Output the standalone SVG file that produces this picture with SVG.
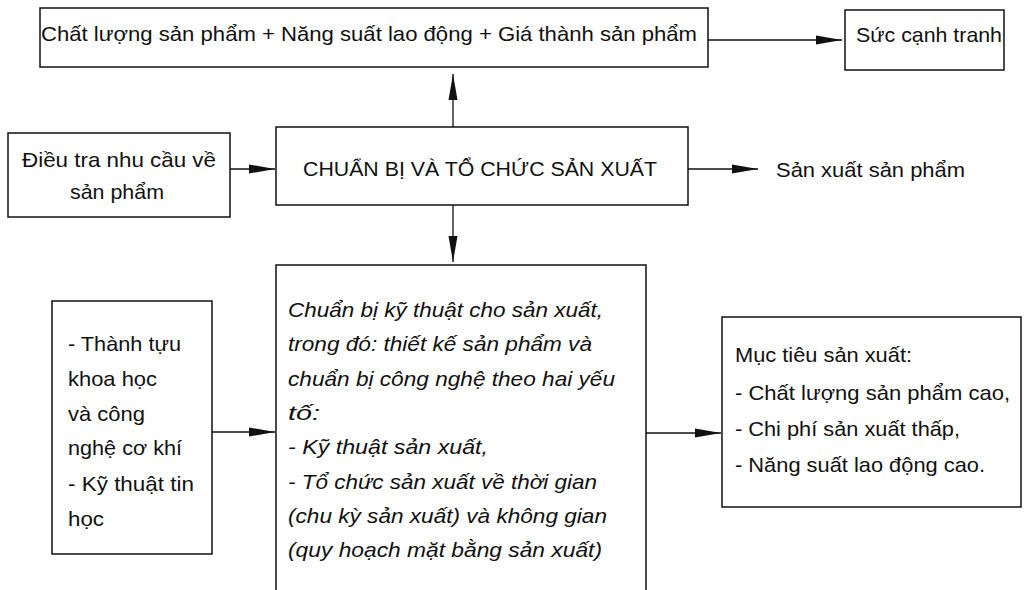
<svg xmlns="http://www.w3.org/2000/svg" width="1035" height="590" viewBox="0 0 1035 590">
<style>
.box{fill:#fff;stroke:#111;stroke-width:1.5}
.t{font-family:"Liberation Sans",Arial,sans-serif;font-size:21px;fill:#111}
.i{font-style:italic}
.c{stroke:#111;stroke-width:1.3;fill:none}
</style>
<defs>
<marker id="ah" viewBox="0 0 26 10" refX="26" refY="5" markerWidth="26" markerHeight="10" markerUnits="userSpaceOnUse" orient="auto">
<path d="M0,0.5 L26,5 L0,9.5 Z" fill="#111"/>
</marker>
</defs>
<rect width="1035" height="590" fill="#fff"/>
<g id="connectors">
<path class="c" d="M708,40 H842" marker-end="url(#ah)"/>
<path class="c" d="M453,127 V74" marker-end="url(#ah)"/>
<path class="c" d="M230,169 H275" marker-end="url(#ah)"/>
<path class="c" d="M688,169 H758" marker-end="url(#ah)"/>
<path class="c" d="M453,205 V262" marker-end="url(#ah)"/>
<path class="c" d="M212,432 H275" marker-end="url(#ah)"/>
<path class="c" d="M646,433 H721" marker-end="url(#ah)"/>
</g>
<g id="n-top">
<rect class="box" x="40" y="8" width="668" height="59"/>
<text class="t" x="41" y="41" font-size="20" textLength="656" lengthAdjust="spacingAndGlyphs">Chất lượng sản phẩm + Năng suất lao động + Giá thành sản phẩm</text>
</g>
<g id="n-canh-tranh">
<rect class="box" x="845" y="10" width="159" height="60"/>
<text class="t" x="856" y="42" font-size="20" textLength="146" lengthAdjust="spacingAndGlyphs">Sức cạnh tranh</text>
</g>
<g id="n-dieu-tra">
<rect class="box" x="8" y="133" width="222" height="84"/>
<text class="t" x="22" y="167" textLength="194" lengthAdjust="spacingAndGlyphs">Điều tra nhu cầu về</text>
<text class="t" x="70" y="199" textLength="94" lengthAdjust="spacingAndGlyphs">sản phẩm</text>
</g>
<g id="n-chuan-bi">
<rect class="box" x="276" y="127" width="412" height="78"/>
<text class="t" x="303" y="176" textLength="354" lengthAdjust="spacingAndGlyphs">CHUẨN BỊ VÀ TỔ CHỨC SẢN XUẤT</text>
</g>
<g id="n-san-xuat">
<text class="t" x="776" y="177" textLength="189" lengthAdjust="spacingAndGlyphs">Sản xuất sản phẩm</text>
</g>
<g id="n-thanh-tuu">
<rect class="box" x="52" y="301" width="160" height="253"/>
<text class="t" x="68" y="351" textLength="113" lengthAdjust="spacingAndGlyphs">- Thành tựu</text>
<text class="t" x="68" y="386" textLength="89" lengthAdjust="spacingAndGlyphs">khoa học</text>
<text class="t" x="68" y="421" textLength="77" lengthAdjust="spacingAndGlyphs">và công</text>
<text class="t" x="68" y="455" textLength="114" lengthAdjust="spacingAndGlyphs">nghệ cơ khí</text>
<text class="t" x="68" y="491" textLength="126" lengthAdjust="spacingAndGlyphs">- Kỹ thuật tin</text>
<text class="t" x="68" y="526" textLength="36" lengthAdjust="spacingAndGlyphs">học</text>
</g>
<g id="n-ky-thuat">
<path class="box" d="M276,592 V265 H646 V592"/>
<text class="t i" x="288" y="317" textLength="315" lengthAdjust="spacingAndGlyphs">Chuẩn bị kỹ thuật cho sản xuất,</text>
<text class="t i" x="288" y="351" textLength="304" lengthAdjust="spacingAndGlyphs">trong đó: thiết kế sản phẩm và</text>
<text class="t i" x="288" y="386" textLength="327" lengthAdjust="spacingAndGlyphs">chuẩn bị công nghệ theo hai yếu</text>
<text class="t i" x="288" y="420" textLength="32" lengthAdjust="spacingAndGlyphs">tố:</text>
<text class="t i" x="288" y="454" textLength="200" lengthAdjust="spacingAndGlyphs">- Kỹ thuật sản xuất,</text>
<text class="t i" x="288" y="489" textLength="309" lengthAdjust="spacingAndGlyphs">- Tổ chức sản xuất về thời gian</text>
<text class="t i" x="288" y="523" textLength="319" lengthAdjust="spacingAndGlyphs">(chu kỳ sản xuất) và không gian</text>
<text class="t i" x="288" y="557" textLength="314" lengthAdjust="spacingAndGlyphs">(quy hoạch mặt bằng sản xuất)</text>
</g>
<g id="n-muc-tieu">
<rect class="box" x="722" y="317" width="299" height="190"/>
<text class="t" x="735" y="362" textLength="177" lengthAdjust="spacingAndGlyphs">Mục tiêu sản xuất:</text>
<text class="t" x="735" y="400" textLength="275" lengthAdjust="spacingAndGlyphs">- Chất lượng sản phẩm cao,</text>
<text class="t" x="735" y="436" textLength="225" lengthAdjust="spacingAndGlyphs">- Chi phí sản xuất thấp,</text>
<text class="t" x="735" y="472" textLength="250" lengthAdjust="spacingAndGlyphs">- Năng suất lao động cao.</text>
</g>
</svg>
